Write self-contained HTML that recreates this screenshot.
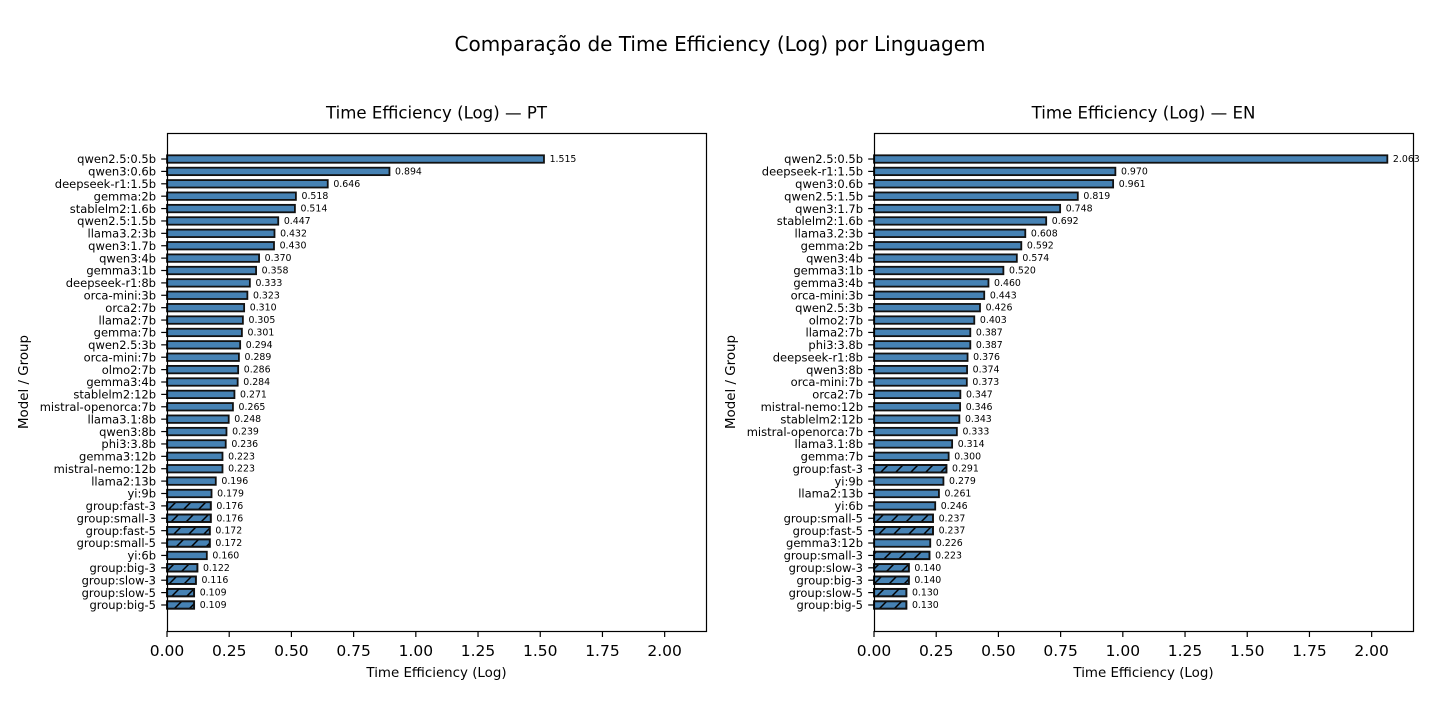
<!DOCTYPE html>
<html lang="pt">
<head>
<meta charset="utf-8">
<title>Comparação de Time Efficiency (Log) por Linguagem</title>
<style>
html,body{margin:0;padding:0;background:#fff;width:1440px;height:720px;overflow:hidden}
svg{display:block}
text{font-family:"DejaVu Sans",sans-serif;fill:#000}
</style>
</head>
<body>
<svg id="chart" xmlns="http://www.w3.org/2000/svg" width="1440" height="720" viewBox="0 0 1440 720">
<defs>
<pattern id="hatch" patternUnits="userSpaceOnUse" width="15" height="15" patternTransform="translate(3 0)">
<path d="M-3.75 3.75L3.75 -3.75M0 15L15 0M11.25 18.75L18.75 11.25" stroke="#000" stroke-width="1.5" fill="none"/>
</pattern>
</defs>
<text x="720" y="51" text-anchor="middle" font-size="20">Comparação de Time Efficiency (Log) por Linguagem</text>
</svg>
<script>
const categoriesPt = ["qwen2.5:0.5b","qwen3:0.6b","deepseek-r1:1.5b","gemma:2b","stablelm2:1.6b","qwen2.5:1.5b","llama3.2:3b","qwen3:1.7b","qwen3:4b","gemma3:1b","deepseek-r1:8b","orca-mini:3b","orca2:7b","llama2:7b","gemma:7b","qwen2.5:3b","orca-mini:7b","olmo2:7b","gemma3:4b","stablelm2:12b","mistral-openorca:7b","llama3.1:8b","qwen3:8b","phi3:3.8b","gemma3:12b","mistral-nemo:12b","llama2:13b","yi:9b","group:fast-3","group:small-3","group:fast-5","group:small-5","yi:6b","group:big-3","group:slow-3","group:slow-5","group:big-5"];
const valuesPt = [1.515,0.894,0.646,0.518,0.514,0.447,0.432,0.430,0.370,0.358,0.333,0.323,0.310,0.305,0.301,0.294,0.289,0.286,0.284,0.271,0.265,0.248,0.239,0.236,0.223,0.223,0.196,0.179,0.176,0.176,0.172,0.172,0.160,0.122,0.116,0.109,0.109];
const categoriesEn = ["qwen2.5:0.5b","deepseek-r1:1.5b","qwen3:0.6b","qwen2.5:1.5b","qwen3:1.7b","stablelm2:1.6b","llama3.2:3b","gemma:2b","qwen3:4b","gemma3:1b","gemma3:4b","orca-mini:3b","qwen2.5:3b","olmo2:7b","llama2:7b","phi3:3.8b","deepseek-r1:8b","qwen3:8b","orca-mini:7b","orca2:7b","mistral-nemo:12b","stablelm2:12b","mistral-openorca:7b","llama3.1:8b","gemma:7b","group:fast-3","yi:9b","llama2:13b","yi:6b","group:small-5","group:fast-5","gemma3:12b","group:small-3","group:slow-3","group:big-3","group:slow-5","group:big-5"];
const valuesEn = [2.063,0.970,0.961,0.819,0.748,0.692,0.608,0.592,0.574,0.520,0.460,0.443,0.426,0.403,0.387,0.387,0.376,0.374,0.373,0.347,0.346,0.343,0.333,0.314,0.300,0.291,0.279,0.261,0.246,0.237,0.237,0.226,0.223,0.140,0.140,0.130,0.130];
const xTicks = ["0.00","0.25","0.50","0.75","1.00","1.25","1.50","1.75","2.00"];

const NS = "http://www.w3.org/2000/svg";
const svg = document.getElementById("chart");
const AX_TOP = 133, AX_BOTTOM = 631, AX_W = 539;
const xMax = Math.max(...valuesPt, ...valuesEn) * 1.05;

function mk(parent, tag, attrs, txt) {
  const el = document.createElementNS(NS, tag);
  for (const k in attrs) el.setAttribute(k, attrs[k]);
  if (txt !== undefined) el.textContent = txt;
  parent.appendChild(el);
  return el;
}

function drawPanel(left, lang, cats, vals) {
  const xScale = v => left + (v / xMax) * AX_W;
  const n = cats.length;
  const unit = (AX_BOTTOM - AX_TOP) / (n - 1 + 2 * 2.1);
  const yScale = i => AX_TOP + (i + 2.1) * unit;
  const barH = unit * 0.6;

  const panel = mk(svg, "g", {});
  
  

  cats.forEach((c, i) => {
    const y = yScale(i);
    const x0 = xScale(0);
    const w = xScale(vals[i]) - x0;
    const bar = mk(panel, "rect", {x: x0, y: y - barH / 2, width: w, height: barH, fill: "#4682b4", stroke: "#111", "stroke-width": 1.8});
    
    
    if (c.startsWith("group:")) {
      const hatch = mk(panel, "rect", {x: x0, y: y - barH / 2, width: w, height: barH, fill: "url(#hatch)", stroke: "#111", "stroke-width": 1.8});
      
      
    }
    const tick = mk(panel, "line", {x1: left - 5.8, x2: left, y1: y, y2: y, stroke: "#000", "stroke-width": 1.2});
    
    
    const lab = mk(panel, "text", {x: left - 11, y: y + 4.2, "text-anchor": "end", "font-size": 11.5}, c);
    
    
    const val = mk(panel, "text", {x: xScale(vals[i]) + 5.6, y: y + 3, "font-size": 9.4}, vals[i].toFixed(3));
    
    
  });

  const frame = mk(panel, "rect", {x: left + 0.5, y: AX_TOP + 0.5, width: AX_W, height: AX_BOTTOM - AX_TOP, fill: "none", stroke: "#000", "stroke-width": 1.2});
  
  

  xTicks.forEach(t => {
    const x = xScale(parseFloat(t));
    const tick = mk(panel, "line", {x1: x, x2: x, y1: AX_BOTTOM, y2: AX_BOTTOM + 6, stroke: "#000", "stroke-width": 1.2});
    
    
    const lab = mk(panel, "text", {x: x, y: AX_BOTTOM + 25, "text-anchor": "middle", "font-size": 15.5}, t);
    
    
  });

  const cx = left + AX_W / 2;
  const title = mk(panel, "text", {x: cx, y: 118.5, "text-anchor": "middle", "font-size": 16.6}, "Time Efficiency (Log) — " + lang);
  
  
  const xt = mk(panel, "text", {x: cx, y: 677, "text-anchor": "middle", "font-size": 13.4}, "Time Efficiency (Log)");
  
  
  const yx = left - 139, yy = 382;
  const yt = mk(panel, "text", {x: yx, y: yy, "text-anchor": "middle", "font-size": 13.4, transform: "rotate(-90 " + yx + " " + yy + ")"}, "Model / Group");
  
  
}

drawPanel(167, "PT", categoriesPt, valuesPt);
drawPanel(874, "EN", categoriesEn, valuesEn);
</script>
</body>
</html>
